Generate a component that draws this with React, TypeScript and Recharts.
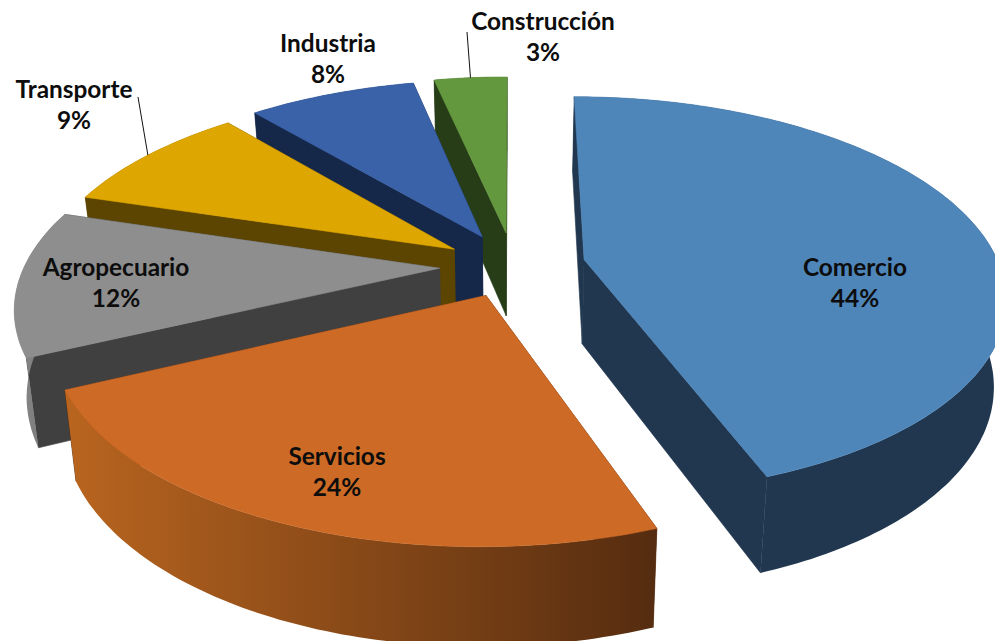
import { PieChart, Pie } from "recharts";

// Sector shares; the labels show them rounded (%)
const categories = ["Comercio", "Servicios", "Agropecuario", "Transporte", "Industria", "Construcción"];
const shares = [44.45, 23.55, 11.7, 9.1, 7.8, 3.4];

// Colours per category: top face, radial cut face, outer wall (left, right)
const topColors = ["#4f86ba", "#cc6a26", "#8e8e8e", "#dea600", "#3a62a8", "#63983e"];
const faceColors = ["#20374f", "#552c10", "#404040", "#5c4500", "#16284a", "#273d18"];
const wallLeft = ["#20374f", "#b9651f", "#8a8a8a", "#5c4500", "#16284a", "#273d18"];
const wallRight = ["#20374f", "#552c10", "#6f6f6f", "#5c4500", "#16284a", "#273d18"];

// How far each slice is pulled out of the pie (in pie radii), plus small nudges (px)
const explode = [0.16, 0.16, 0.16, 0.16, 0.16, 0.16];
const nudgeX = [10, 3, -3, 0, 2, 4];
const nudgeY = [-1, 0, 0, 0, -2, -3];

// Label centres on the page, and which labels get a leader line
const labelSpots: Record<string, [number, number]> = {
  Comercio: [855, 266],
  Servicios: [337, 455],
  Agropecuario: [116, 266],
  Transporte: [74, 88],
  Industria: [328, 42],
  Construcción: [543, 20],
};
const leaderStarts: Record<string, [number, number]> = {
  Transporte: [138, 97],
  Construcción: [467, 32],
};

const WIDTH = 995;
const HEIGHT = 641;
const ASPECT = 2.14; // x stretch of the tilted disc
const PERSPECTIVE = 0.18;

type Pt = [number, number];

// Tilted disc: theta is clockwise from 12 o'clock, r in pie radii
function project(cx: number, cy: number, R: number, theta: number, r: number, pull: number, mid: number): Pt {
  const rad = (d: number) => (d * Math.PI) / 180;
  const X = r * Math.sin(rad(theta)) + pull * Math.sin(rad(mid));
  const Y = r * Math.cos(rad(theta)) + pull * Math.cos(rad(mid));
  const w = 1 + PERSPECTIVE * Y;
  return [cx + (R * ASPECT * X) / w, cy - (R * Y) / w];
}

// Matching point on the underside of the slab
function drop(cx: number, p: Pt): Pt {
  return [cx + (p[0] - cx) * 0.975, p[1] + 83 + (p[1] - 237) * 0.055];
}

const toPath = (pts: Pt[]) => "M" + pts.map((p) => `${p[0].toFixed(1)},${p[1].toFixed(1)}`).join("L") + "Z";

function Slice(props: any) {
  const { cx, cy, outerRadius, startAngle, endAngle, payload } = props;
  const i = categories.indexOf(payload.name);
  const from = 90 - Math.max(startAngle, endAngle);
  const to = 90 - Math.min(startAngle, endAngle);
  const mid = (from + to) / 2;
  const pull = explode[i];
  const at = (theta: number, r: number) => project(cx + nudgeX[i], cy + nudgeY[i], outerRadius, theta, r, pull, mid);

  const rim: Pt[] = [];
  const steps = Math.ceil(to - from);
  for (let s = 0; s <= steps; s++) rim.push(at(from + ((to - from) * s) / steps, 1));
  const apex = at(mid, 0);
  const rimLow = rim.map((p) => drop(cx, p));
  const apexLow = drop(cx, apex);
  const xs = rim.map((p) => p[0]);
  const grad = `wall-${i}`;

  return (
    <g>
      <defs>
        <linearGradient id={grad} gradientUnits="userSpaceOnUse" x1={Math.min(...xs)} x2={Math.max(...xs)} y1={0} y2={0}>
          <stop offset="0" stopColor={wallLeft[i]} />
          <stop offset="1" stopColor={wallRight[i]} />
        </linearGradient>
      </defs>
      <path d={toPath([apex, rim[0], rimLow[0], apexLow])} fill={faceColors[i]} stroke={faceColors[i]} strokeWidth={0.6} />
      <path d={toPath([apex, rim[rim.length - 1], rimLow[rimLow.length - 1], apexLow])} fill={faceColors[i]} stroke={faceColors[i]} strokeWidth={0.6} />
      <path d={toPath([...rim, ...[...rimLow].reverse()])} fill={`url(#${grad})`} />
      <path d={toPath([apex, ...rim])} fill={topColors[i]} stroke={topColors[i]} strokeWidth={0.6} />
    </g>
  );
}

function SliceLabel(props: any) {
  const { cx, cy, outerRadius, midAngle, payload } = props;
  const name: string = payload.name;
  const i = categories.indexOf(name);
  const [x, y] = labelSpots[name];
  const start = leaderStarts[name];
  const mid = 90 - midAngle;
  const end = project(cx + nudgeX[i], cy + nudgeY[i], outerRadius, mid, 1, explode[i], mid);
  return (
    <g>
      {start && <line x1={start[0]} y1={start[1]} x2={end[0]} y2={end[1]} stroke="#111" strokeWidth={1} />}
      <text x={x} y={y} textAnchor="middle" dominantBaseline="central" fontFamily="Lato" fontWeight={700} fontSize={24.4} fill="#0d0d0d">
        {name}
      </text>
      <text x={x} y={y + 31} textAnchor="middle" dominantBaseline="central" fontFamily="Lato" fontWeight={700} fontSize={24.4} fill="#0d0d0d">
        {Math.round(shares[i])}%
      </text>
    </g>
  );
}

// Back slices first so the front ones paint over them
const rows = categories.map((name, i) => ({ name, value: shares[i] })).reverse();

export default function App() {
  return (
    <div style={{ position: "absolute", left: 0, top: 0, width: WIDTH, height: HEIGHT, background: "#fff" }}>
      <PieChart width={WIDTH} height={HEIGHT} margin={{ top: 0, right: 0, bottom: 0, left: 0 }}>
        <Pie
          data={rows}
          dataKey="value"
          nameKey="name"
          cx={509}
          cy={266}
          outerRadius={194}
          startAngle={90}
          endAngle={450}
          stroke="none"
          shape={Slice}
          label={SliceLabel}
          labelLine={false}
          isAnimationActive={false}
        />
      </PieChart>
    </div>
  );
}
